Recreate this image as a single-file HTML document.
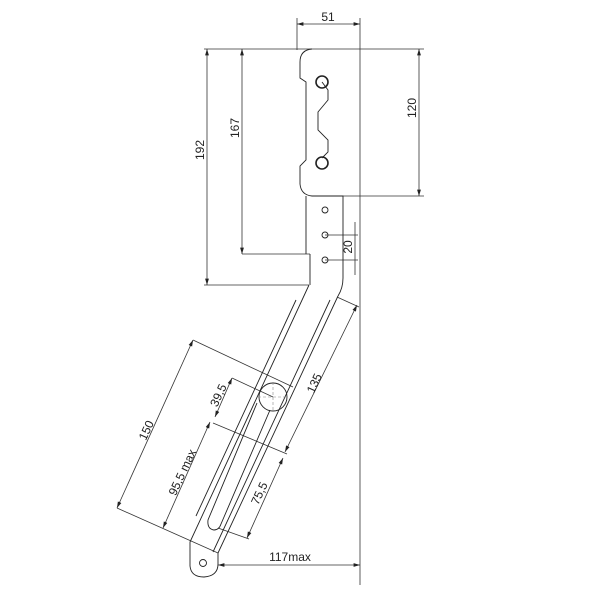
<!DOCTYPE html>
<html><head><meta charset="utf-8"><style>
html,body{margin:0;padding:0;background:#fff;}
svg{display:block;}
text{font-family:"Liberation Sans",sans-serif;font-size:12px;fill:#222;}
</style></head><body>
<svg width="600" height="600" viewBox="0 0 600 600" xmlns="http://www.w3.org/2000/svg">
<defs>
<marker id="a" viewBox="0 0 10 6" refX="10" refY="3" markerWidth="8" markerHeight="5" orient="auto-start-reverse"><path d="M0,0 L10,3 L0,6 z" fill="#222"/></marker>
</defs>
<g stroke="#333" stroke-width="0.8" fill="none">
<!-- 51 -->
<line x1="297" y1="18" x2="297" y2="50"/>
<line x1="360" y1="18" x2="360" y2="585"/>
<line x1="297" y1="24" x2="360" y2="24" marker-start="url(#a)" marker-end="url(#a)"/>
<!-- top line -->
<line x1="204" y1="49" x2="424" y2="49"/>
<!-- 192 -->
<line x1="207" y1="49" x2="207" y2="285" marker-start="url(#a)" marker-end="url(#a)"/>
<line x1="204" y1="285" x2="309" y2="285"/>
<!-- 167 -->
<line x1="242" y1="49" x2="242" y2="254" marker-start="url(#a)" marker-end="url(#a)"/>
<line x1="242" y1="254" x2="310" y2="254"/>
<!-- 120 -->
<line x1="419" y1="49" x2="419" y2="196" marker-start="url(#a)" marker-end="url(#a)"/>
<line x1="343" y1="196" x2="424" y2="196"/>
<!-- 20 -->
<line x1="325" y1="235" x2="358" y2="235"/>
<line x1="325" y1="260" x2="358" y2="260"/>
<line x1="355" y1="222" x2="355" y2="275"/>
<!-- 117max -->
<line x1="218" y1="565" x2="360" y2="565" marker-start="url(#a)" marker-end="url(#a)"/>
<!-- 150 -->
<line x1="193" y1="340" x2="117" y2="508" marker-start="url(#a)" marker-end="url(#a)"/>
<line x1="193" y1="340" x2="293" y2="387"/>
<line x1="117" y1="508" x2="218" y2="553"/>
<!-- 135 -->
<line x1="357" y1="305" x2="285" y2="452" marker-start="url(#a)" marker-end="url(#a)"/>
<line x1="337" y1="297" x2="359" y2="307"/>
<line x1="213" y1="423" x2="287" y2="454"/>
<!-- 39.5 -->
<line x1="232" y1="378" x2="215" y2="417" marker-start="url(#a)" marker-end="url(#a)"/>
<line x1="232" y1="378" x2="273" y2="397"/>
<!-- 95.5 -->
<line x1="210" y1="422" x2="163" y2="528" marker-start="url(#a)" marker-end="url(#a)"/>
<!-- 75.5 -->
<line x1="283" y1="458" x2="247" y2="538" marker-start="url(#a)" marker-end="url(#a)"/>
<line x1="218" y1="528" x2="249" y2="539"/>
</g>
<g stroke="#222" stroke-width="0.9" fill="none">
<!-- plate -->
<path d="M312,49 Q300,50 300,62 L300,78 L306,82 L306,160 L300,166 L300,184 Q301,195 312,196 L343,196 L343,278 Q343,288 338,296"/>
<path d="M322,82 L328,90 L328,100 L318,112 L318,130 L328,140 L328,152 L322,158"/>
<path d="M306,196 L306,254 M310,254 L310,285"/>
<circle cx="322" cy="82" r="6" stroke-width="1.6"/>
<circle cx="322" cy="163" r="6" stroke-width="1.6"/>
<circle cx="325" cy="210" r="3"/>
<circle cx="325" cy="235" r="3"/>
<circle cx="325" cy="260" r="3"/>
<!-- arm -->
<path d="M309,285 L190,542 L190,566 Q191,577 204,577 Q218,576 218,564 L218,553 L338,296"/>
<line x1="330" y1="300" x2="213" y2="552"/>
<line x1="296" y1="300" x2="196" y2="516"/>
<circle cx="203" cy="563" r="3.5"/>
<circle cx="273" cy="397" r="14"/>
<path d="M257,403 L208,520 Q207,529 214,530 Q219,530 221,524 L270,410"/>
</g>
<g stroke="#888" stroke-width="0.6" stroke-dasharray="3,2">
<line x1="258" y1="397" x2="288" y2="397"/><line x1="273" y1="382" x2="273" y2="412"/>
</g>
<text x="328" y="21" text-anchor="middle">51</text>
<text transform="translate(204,150) rotate(-90)" text-anchor="middle">192</text>
<text transform="translate(239,128) rotate(-90)" text-anchor="middle">167</text>
<text transform="translate(416,108) rotate(-90)" text-anchor="middle">120</text>
<text transform="translate(352,247) rotate(-90)" text-anchor="middle">20</text>
<text x="290" y="561" text-anchor="middle">117max</text>
<text transform="translate(150,432) rotate(-65)" text-anchor="middle">150</text>
<text transform="translate(318,385) rotate(-65)" text-anchor="middle">135</text>
<text transform="translate(222,397) rotate(-65)" text-anchor="middle">39,5</text>
<text transform="translate(186,474) rotate(-65)" text-anchor="middle">95,5 max</text>
<text transform="translate(263,495) rotate(-65)" text-anchor="middle">75,5</text>
</svg>
</body></html>
